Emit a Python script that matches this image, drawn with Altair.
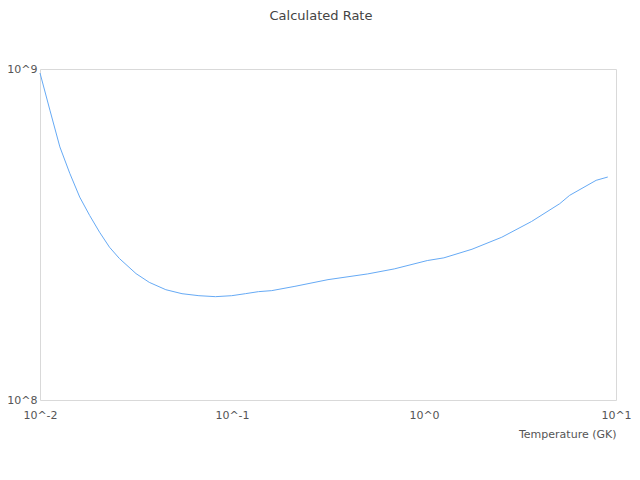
import altair as alt
import pandas as pd

# Temperature (GK) and calculated rate
temperature = [0.01, 0.01126, 0.01269, 0.01429, 0.0161, 0.01814, 0.02043, 0.02302,
               0.02593, 0.03164, 0.03707, 0.04521, 0.05492, 0.06724, 0.08204, 0.09961,
               0.1173, 0.1374, 0.161, 0.2127, 0.3162, 0.5092, 0.6998, 1.04,
               1.269, 1.778, 2.542, 3.635, 5.091, 5.735, 7.881, 9.06]
rate = [9.725e8, 7.512e8, 5.815e8, 4.84e8, 4.102e8, 3.61e8, 3.213e8, 2.894e8,
        2.675e8, 2.409e8, 2.267e8, 2.154e8, 2.095e8, 2.066e8, 2.052e8, 2.066e8,
        2.095e8, 2.125e8, 2.14e8, 2.205e8, 2.31e8, 2.404e8, 2.489e8, 2.638e8,
        2.688e8, 2.854e8, 3.103e8, 3.463e8, 3.918e8, 4.152e8, 4.61e8, 4.717e8]

x_ticks = [0.01, 0.1, 1, 10]
y_ticks = [1e8, 1e9]
chart_title = "Calculated Rate"

df = pd.DataFrame({"T": temperature, "rate": rate})

label_expr = "'10^' + round(log(datum.value) / LN10)"

line = alt.Chart(df).mark_line(color="#66aaf5", strokeWidth=1).encode(
    x=alt.X("T:Q",
            scale=alt.Scale(type="log", domain=[0.01, 10], nice=False),
            axis=alt.Axis(values=x_ticks, labelExpr=label_expr, grid=False, ticks=False,
                          tickSize=0, domain=False, labelFlush=False, labelOverlap=False,
                          labelPadding=9, labelFontSize=11, labelColor="#555",
                          labelFont="DejaVu Sans",
                          title="Temperature (GK)", titleAnchor="end", titleAlign="right",
                          titleBaseline="top", titleX=576, titleY=28,
                          titleFontSize=11, titleFontWeight="normal", titleColor="#555",
                          titleFont="DejaVu Sans")),
    y=alt.Y("rate:Q",
            scale=alt.Scale(type="log", domain=[1e8, 1e9], nice=False),
            axis=alt.Axis(values=y_ticks, labelExpr=label_expr, grid=False, ticks=False,
                          tickSize=0, domain=False, labelFlush=False, labelOverlap=False,
                          labelPadding=3, labelFontSize=11, labelColor="#555",
                          labelFont="DejaVu Sans", title=None)),
)

title = alt.Chart(pd.DataFrame({"t": [chart_title]})).mark_text(
    font="DejaVu Sans", fontSize=13, color="#444", align="center", baseline="alphabetic"
).encode(
    text="t:N",
    x=alt.value(281),
    y=alt.value(-49),
)

chart = alt.layer(line, title).properties(
    width=576,
    height=331,
    autosize=alt.AutoSizeParams(type="none"),
    padding={"left": 32, "top": 61, "right": 16, "bottom": 40},
).configure_view(stroke="#d9d9d9", strokeWidth=1)

chart.save("out.html", embed_options={"renderer": "svg", "actions": False})
